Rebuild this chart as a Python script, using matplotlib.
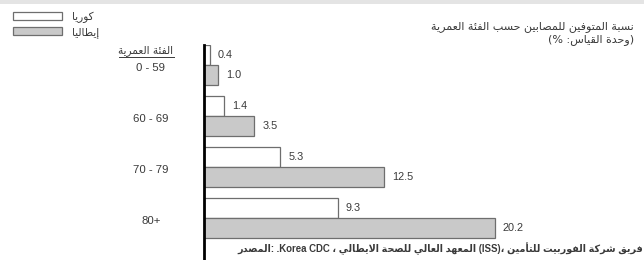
import matplotlib
matplotlib.use('Agg')
import matplotlib.pyplot as plt
import matplotlib.patches as mpatches
import numpy as np

# data
age_groups = ['0 - 59', '60 - 69', '70 - 79', '80+']
korea = [0.4, 1.4, 5.3, 9.3]
italy = [1.0, 3.5, 12.5, 20.2]

# arabic labels (logical order)
lbl_korea = 'كوريا'
lbl_italy = 'إيطاليا'
lbl_header = 'الفئة العمرية'
title_1 = 'نسبة المتوفين للمصابين حسب الفئة العمرية'
title_unit = 'وحدة القياس'
src_1 = 'المصدر'
src_2 = 'المعهد العالي للصحة الايطالي'
src_3 = 'فريق شركة الفوربيت للتأمين'

# minimal arabic shaping (presentation forms) since matplotlib has no shaping
FOUR = {'ب': 0xFE8F, 'ت': 0xFE95, 'ث': 0xFE99, 'ج': 0xFE9D, 'ح': 0xFEA1,
        'خ': 0xFEA5, 'س': 0xFEB1, 'ش': 0xFEB5, 'ص': 0xFEB9, 'ض': 0xFEBD,
        'ط': 0xFEC1, 'ظ': 0xFEC5, 'ع': 0xFEC9, 'غ': 0xFECD, 'ف': 0xFED1,
        'ق': 0xFED5, 'ك': 0xFED9, 'ل': 0xFEDD, 'م': 0xFEE1, 'ن': 0xFEE5,
        'ه': 0xFEE9, 'ي': 0xFEF1, 'ئ': 0xFE89}
TWO = {'ا': 0xFE8D, 'أ': 0xFE83, 'إ': 0xFE87, 'آ': 0xFE81, 'ة': 0xFE93,
       'د': 0xFEA9, 'ذ': 0xFEAB, 'ر': 0xFEAD, 'ز': 0xFEAF, 'و': 0xFEED,
       'ى': 0xFEEF, 'ؤ': 0xFE85}
LAMALEF = {'ا': 0xFEFB, 'أ': 0xFEF7, 'إ': 0xFEF9, 'آ': 0xFEF5}


def shape(s):
    out = []
    prev = False
    i = 0
    while i < len(s):
        c = s[i]
        nxt = s[i + 1] if i + 1 < len(s) else ''
        if c == 'ل' and nxt in LAMALEF:
            out.append(chr(LAMALEF[nxt] + (1 if prev else 0)))
            prev = False
            i += 2
            continue
        if c in FOUR:
            nj = nxt in FOUR or nxt in TWO
            b = FOUR[c]
            g = b + 3 if (prev and nj) else b + 2 if nj else b + 1 if prev else b
            out.append(chr(g))
            prev = True
        elif c in TWO:
            out.append(chr(TWO[c] + (1 if prev else 0)))
            prev = False
        else:
            out.append(c)
            prev = False
        i += 1
    return ''.join(out)


def ar(s):
    return shape(s)[::-1]


plt.rcParams['font.family'] = ['Liberation Sans', 'DejaVu Sans']
TXT = '#3a3a3a'

W, H = 644, 260
fig = plt.figure(figsize=(W / 100, H / 100), dpi=100)

# light band at the very top
fig.patches.append(mpatches.Rectangle((0, 1 - 4 / H), 1, 4 / H, transform=fig.transFigure,
                                      facecolor='#e4e4e4', edgecolor='none'))

ax_left, ax_top = 204, 45
px_per_unit = 14.4
group_px = 51
first_px = 65
ax = fig.add_axes([ax_left / W, 0, 1 - ax_left / W, (H - ax_top) / H])
ax.set_xlim(0, (W - ax_left) / px_per_unit)
ax.set_ylim((H - first_px) / group_px, (ax_top - first_px) / group_px)

y = np.arange(len(age_groups))
bh = 0.38
off = 0.195
b1 = ax.barh(y - off, korea, height=bh, color='white', edgecolor='#6e6e6e', linewidth=0.9)
b2 = ax.barh(y + off, italy, height=bh, color='#c9c9c9', edgecolor='#6e6e6e', linewidth=0.9)

pad = 8 / px_per_unit
for yy, v in zip(y - off, korea):
    ax.text(v + pad, yy, f'{v:.1f}', va='center', ha='left', fontsize=7.8, color=TXT)
for yy, v in zip(y + off, italy):
    ax.text(v + pad, yy, f'{v:.1f}', va='center', ha='left', fontsize=7.8, color=TXT)

lab_x = (151 - ax_left) / (W - ax_left)
for yy, g in zip(y, age_groups):
    ax.text(lab_x, yy + 0.05, g, transform=ax.get_yaxis_transform(), ha='center', va='center',
            fontsize=8.2, color=TXT)

for s in ['top', 'right', 'bottom']:
    ax.spines[s].set_visible(False)
ax.spines['left'].set_linewidth(2.0)
ax.spines['left'].set_color('black')
ax.set_xticks([])
ax.set_yticks([])
ax.patch.set_alpha(0)

# header with underline
hdr = fig.text(146 / W, 1 - 51 / H, ar(lbl_header), ha='center', va='center',
               fontsize=7.6, color=TXT, family='DejaVu Sans')
fig.canvas.draw()
bb = hdr.get_window_extent()
fig.lines.append(plt.Line2D([bb.x0 / W, bb.x1 / W], [(bb.y0 - 0.5) / H] * 2,
                            transform=fig.transFigure, color=TXT, linewidth=0.7))

# legend
fig.legend([b1, b2], [ar(lbl_korea), ar(lbl_italy)], loc='upper left',
           bbox_to_anchor=(6 / W, 1 - 4 / H), frameon=False,
           handlelength=4.6, handleheight=0.75, handletextpad=1.0, labelspacing=0.4,
           borderpad=0.2, labelcolor=TXT, prop={'family': 'DejaVu Sans', 'size': 7.6})

# title
fig.text(634 / W, 1 - 21 / H, ar(title_1) + '\n(% :' + ar(title_unit) + ')',
         ha='right', va='top', fontsize=8.0, color=TXT, linespacing=1.3,
         multialignment='right', family='DejaVu Sans')

# source
src = ar(src_1) + ': .Korea CDC \u060c ' + ar(src_2) + ' (ISS)\u060c ' + ar(src_3)
fig.text(237 / W, 1 - 249 / H, src, ha='left', va='center', fontsize=6.9,
         color=TXT, fontweight='bold')

fig.savefig('out.png', dpi=100)
